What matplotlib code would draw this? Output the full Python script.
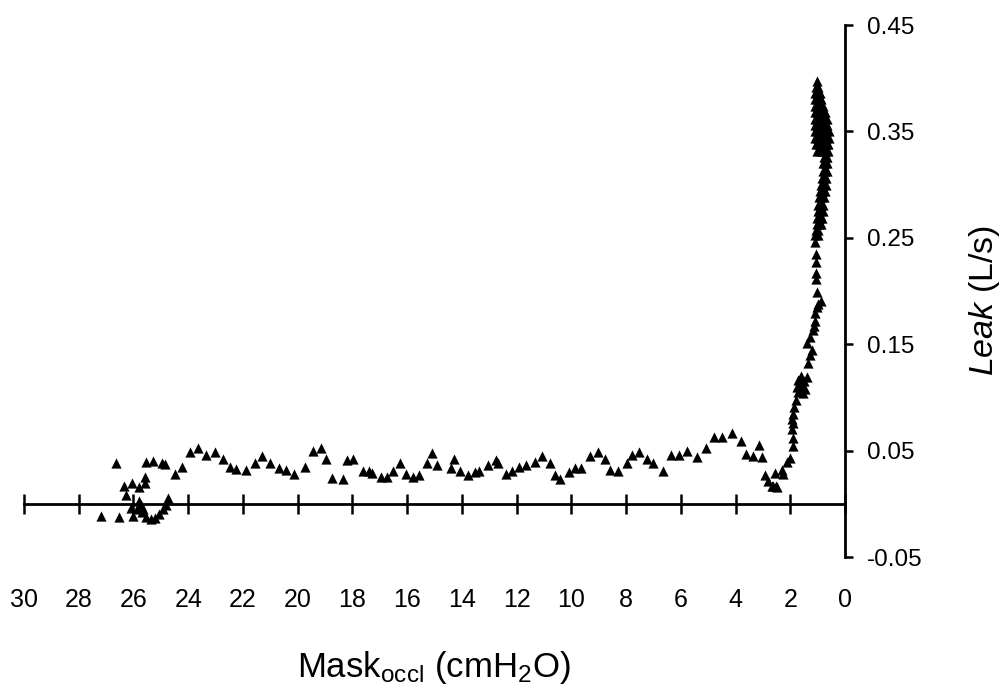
import numpy as np
import matplotlib
matplotlib.use('Agg')
import matplotlib.pyplot as plt

# =====[ Data ]=====

# wavy low-leak part, Mask_occl from ~27 down to ~2 cmH2O
plateau_x = [27.18, 26.63, 26.53, 26.35, 26.26, 26.05, 26.02, 26.08, 25.87, 25.80,
             25.78, 25.72, 25.68, 25.66, 25.57, 25.59, 25.53, 25.53, 25.35, 25.29,
             25.23, 25.07, 24.95, 24.92, 24.84, 24.80, 24.72, 24.50, 24.24, 23.95,
             23.64, 23.34, 23.03, 22.72, 22.46, 22.24, 21.90, 21.55, 21.29, 21.00,
             20.68, 20.44, 20.15, 19.74, 19.44, 19.13, 18.95, 18.75, 18.34, 18.20,
             17.98, 17.63, 17.39, 17.30, 16.94, 16.72, 16.53, 16.25, 16.05, 15.80,
             15.58, 15.26, 15.08, 14.91, 14.41, 14.28, 14.05, 13.77, 13.53, 13.37,
             13.04, 12.76, 12.68, 12.37, 12.16, 11.92, 11.67, 11.33, 11.09, 10.79,
             10.60, 10.42, 10.07, 9.87, 9.63, 9.30, 9.04, 8.78, 8.59, 8.29,
             7.98, 7.78, 7.52, 7.25, 7.01, 6.64, 6.34, 6.07, 5.79, 5.42,
             5.09, 4.79, 4.51, 4.14, 3.80, 3.63, 3.37, 3.14, 3.04, 2.93,
             2.80, 2.68, 2.62, 2.56, 2.52, 2.49, 2.31, 2.25, 2.13, 2.01]
plateau_y = [-0.011, 0.038, -0.012, 0.017, 0.008, 0.020, -0.011, -0.004, -0.005, 0.003,
             0.016, -0.001, -0.008, -0.005, 0.025, 0.020, 0.039, -0.012, -0.014, 0.040,
             -0.013, -0.010, 0.038, -0.005, 0.037, -0.001, 0.005, 0.028, 0.035, 0.049,
             0.052, 0.046, 0.049, 0.042, 0.035, 0.033, 0.032, 0.038, 0.045, 0.038,
             0.034, 0.032, 0.028, 0.035, 0.050, 0.052, 0.042, 0.024, 0.023, 0.041,
             0.042, 0.031, 0.031, 0.029, 0.025, 0.025, 0.031, 0.038, 0.028, 0.025,
             0.027, 0.038, 0.048, 0.036, 0.034, 0.042, 0.031, 0.027, 0.030, 0.031,
             0.036, 0.041, 0.038, 0.028, 0.031, 0.035, 0.036, 0.039, 0.045, 0.038,
             0.027, 0.023, 0.030, 0.034, 0.034, 0.045, 0.049, 0.042, 0.032, 0.031,
             0.038, 0.046, 0.049, 0.042, 0.038, 0.031, 0.046, 0.046, 0.050, 0.044,
             0.052, 0.063, 0.063, 0.067, 0.059, 0.047, 0.045, 0.055, 0.044, 0.027,
             0.021, 0.017, 0.017, 0.029, 0.017, 0.016, 0.032, 0.028, 0.039, 0.043]

# steep rise below ~2 cmH2O
rise_x = [1.91, 1.89, 1.95, 1.89, 1.92, 1.89, 1.86, 1.79, 1.76, 1.71,
          1.70, 1.62, 1.60, 1.55, 1.52, 1.50, 1.45, 1.40, 1.34, 1.28,
          1.40, 1.28, 1.16, 1.10, 1.10, 1.03, 0.88, 1.03, 1.06, 1.06,
          1.06, 1.06, 1.10, 1.20, 1.14, 0.98]
rise_y = [0.054, 0.062, 0.070, 0.076, 0.080, 0.084, 0.091, 0.098, 0.110, 0.116,
          0.105, 0.112, 0.120, 0.104, 0.110, 0.115, 0.108, 0.119, 0.132, 0.140,
          0.151, 0.157, 0.163, 0.172, 0.179, 0.185, 0.191, 0.199, 0.211, 0.217,
          0.227, 0.235, 0.246, 0.145, 0.167, 0.188]

# dense cloud at maximum leak, ~1 cmH2O
peak_x = [1.03,
          1.06, 0.99,
          1.08, 1.00, 0.92,
          1.10, 1.02, 0.94, 0.88,
          1.10, 1.02, 0.94, 0.86, 0.80,
          1.11, 1.03, 0.95, 0.87, 0.78, 0.72,
          1.11, 1.03, 0.95, 0.86, 0.76, 0.66,
          1.11, 1.02, 0.93, 0.84, 0.74, 0.64,
          1.10, 1.01, 0.92, 0.82, 0.71, 0.60,
          1.09, 1.00, 0.90, 0.80, 0.70, 0.60,
          1.06, 0.97, 0.86, 0.76, 0.66, 0.62,
          1.03, 0.90, 0.80, 0.70, 0.63,
          0.78, 0.70, 0.64,
          0.80, 0.72, 0.65,
          0.82, 0.74, 0.67,
          0.85, 0.76, 0.68,
          0.88, 0.79, 0.70,
          0.91, 0.82, 0.73,
          0.94, 0.85, 0.76,
          0.97, 0.88, 0.79,
          1.00, 0.90, 0.82,
          1.02, 0.93, 0.85,
          1.04, 0.95, 0.88,
          1.06, 0.97,
          1.08, 0.99]
peak_y = [0.397,
          0.392, 0.392,
          0.386, 0.386, 0.386,
          0.380, 0.380, 0.380, 0.380,
          0.374, 0.374, 0.374, 0.374, 0.374,
          0.368, 0.368, 0.368, 0.368, 0.368, 0.368,
          0.362, 0.362, 0.362, 0.362, 0.362, 0.362,
          0.356, 0.356, 0.356, 0.356, 0.356, 0.356,
          0.350, 0.350, 0.350, 0.350, 0.350, 0.350,
          0.344, 0.344, 0.344, 0.344, 0.344, 0.344,
          0.338, 0.338, 0.338, 0.338, 0.338, 0.338,
          0.332, 0.332, 0.332, 0.332, 0.332,
          0.326, 0.326, 0.326,
          0.320, 0.320, 0.320,
          0.313, 0.313, 0.313,
          0.306, 0.306, 0.306,
          0.300, 0.300, 0.300,
          0.294, 0.294, 0.294,
          0.288, 0.288, 0.288,
          0.281, 0.281, 0.281,
          0.275, 0.275, 0.275,
          0.269, 0.269, 0.269,
          0.263, 0.263, 0.263,
          0.257, 0.257,
          0.253, 0.253]

x_ticks = [30, 28, 26, 24, 22, 20, 18, 16, 14, 12, 10, 8, 6, 4, 2, 0]
y_ticks = [-0.05, 0.05, 0.15, 0.25, 0.35, 0.45]
y_ticklabels = ['-0.05', '0.05', '0.15', '0.25', '0.35', '0.45']

# =====[ Figure ]=====

plt.rcParams['font.family'] = ['Liberation Sans', 'DejaVu Sans']
plt.rcParams['mathtext.fontset'] = 'custom'
plt.rcParams['mathtext.rm'] = 'Liberation Sans'
plt.rcParams['mathtext.it'] = 'Liberation Sans:italic'

fig = plt.figure(figsize=(10.02, 6.88), dpi=100)
ax = fig.add_axes([24/1002, 131/688, 821/1002, 532/688])

for xs, ys in ((plateau_x, plateau_y), (rise_x, rise_y), (peak_x, peak_y)):
    ax.scatter(xs, ys, marker='^', s=54, color='black', linewidths=0, clip_on=False)

ax.set_xlim(30, 0)
ax.set_ylim(-0.05, 0.45)

ax.spines['left'].set_visible(False)
ax.spines['top'].set_visible(False)
ax.spines['bottom'].set_position(('data', 0))
ax.spines['bottom'].set_linewidth(2.0)
ax.spines['right'].set_linewidth(2.0)

ax.yaxis.tick_right()
ax.set_yticks(y_ticks)
ax.set_yticklabels(y_ticklabels)
ax.set_xticks(x_ticks)
ax.set_xticklabels([str(t) for t in x_ticks])

ax.tick_params(axis='y', direction='out', length=6, width=1.8, pad=10, labelsize=17.5)
ax.tick_params(axis='x', direction='inout', length=15, width=1.8, pad=53, labelsize=18)

fig.text(434/1002, 1 - 667/688, r'Mask$_{\mathrm{occl}}$ (cmH$_2$O)',
         ha='center', va='center', fontsize=25)
fig.text(984/1002, 1 - 300/688, r'$\mathit{Leak}$ (L/s)',
         ha='center', va='center', rotation=90, fontsize=24.5)

fig.savefig('out.png', dpi=100)
